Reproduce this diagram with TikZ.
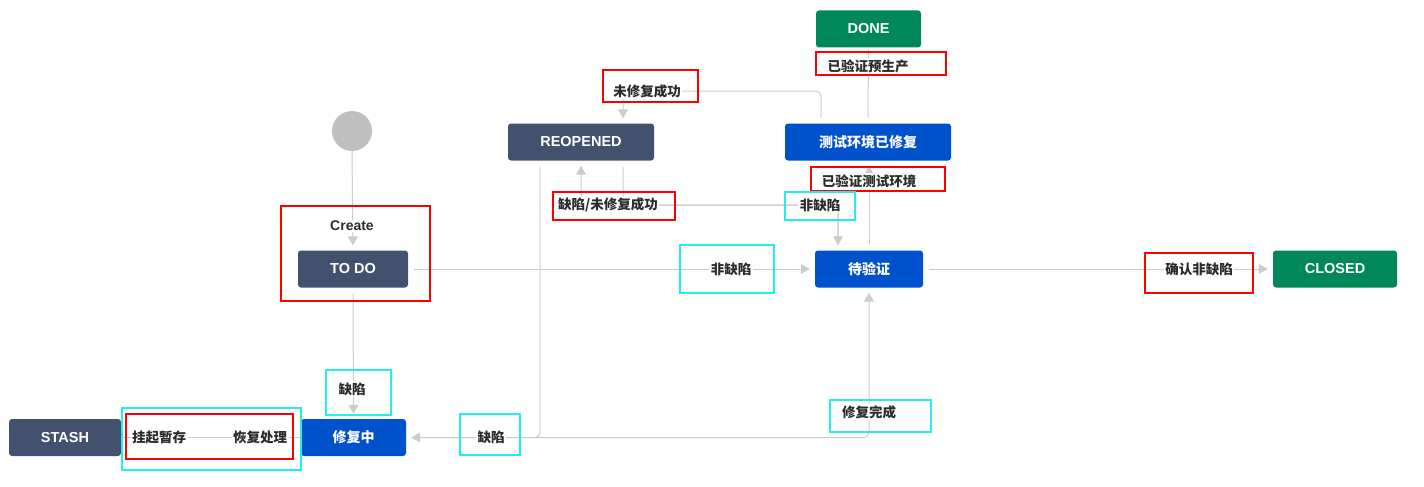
\documentclass[tikz,border=0pt]{standalone}
\usepackage{fontspec}
\setmainfont{Liberation Sans}
\newfontfamily\cjk{Noto Sans CJK SC}
\usetikzlibrary{arrows.meta}
\definecolor{jdark}{HTML}{42526E}
\definecolor{jblue}{HTML}{0052CC}
\definecolor{jgreen}{HTML}{00875A}
\definecolor{jline}{HTML}{CCCCCC}
\definecolor{jcirc}{HTML}{BFBFBF}
\definecolor{jtext}{HTML}{2B2B2B}
\definecolor{jcyan}{HTML}{22EEEE}
\begin{document}
\begin{tikzpicture}[x=1pt,y=-1pt,
  state/.style={rounded corners=3pt, minimum height=37pt, text=white, inner sep=0pt, font=\fontsize{14.5}{16}\selectfont\bfseries},
  sdark/.style={state, fill=jdark},
  sblue/.style={state, fill=jblue, font=\cjk\fontsize{14}{16}\selectfont\bfseries},
  sgreen/.style={state, fill=jgreen},
  lbl/.style={fill=white, inner sep=1.5pt, text=jtext, font=\cjk\fontsize{13.5}{15}\selectfont\bfseries},
  conn/.style={draw=jline, line width=1pt, rounded corners=5pt},
  arr/.style={conn, -{Triangle[width=10pt,length=9pt]}, shorten >=5pt},
  redbox/.style={draw=red, line width=2pt, inner sep=0pt},
  cyanbox/.style={draw=jcyan, line width=2pt, inner sep=0pt}
]
\useasboundingbox (0,0) rectangle (1424,487);

% states
\node[circle, fill=jcirc, minimum size=40pt, inner sep=0pt] (start) at (352,131) {};
\node[sgreen, minimum width=105pt] (done) at (868.5,29) {DONE};
\node[sdark, minimum width=146pt] (reo) at (581,142) {REOPENED};
\node[sblue, minimum width=166pt] (tef) at (868,142) {测试环境已修复};
\node[sdark, minimum width=110pt] (todo) at (353,269) {TO DO};
\node[sblue, minimum width=108pt] (dyz) at (869,269) {待验证};
\node[sgreen, minimum width=124pt] (closed) at (1335,269) {CLOSED};
\node[sdark, minimum width=112pt] (stash) at (65,437.5) {STASH};
\node[sblue, minimum width=105pt] (xfz) at (353.5,437.5) {修复中};

\coordinate (h91) at (0,91);
\coordinate (h205) at (0,205);

% connectors
\draw[arr, shorten <=0pt] (start.south) -- (todo.north);
\draw[arr, shorten <=6pt] (todo.east) -- (dyz.west);
\draw[arr, shorten <=6pt] (todo.south) -- (xfz.north);
\draw[arr, shorten <=6pt] (dyz.east) -- (closed.west);
\draw[conn] (stash.east) -- (xfz.west);
\draw[arr, shorten <=6pt] ([xshift=-41pt]reo.south) |- (xfz.east);
\draw[arr, shorten <=6pt] (xfz.east) -| (dyz.south);
\draw[arr, shorten <=6pt] ([xshift=42pt]reo.south) -- ([xshift=42pt]reo.south |- h205) -| ([xshift=-31pt]dyz.north);
\draw[arr, shorten <=6pt] ([xshift=-31pt]dyz.north) -- ([xshift=-31pt]dyz.north |- h205) -| (reo.south);
\draw[arr, shorten <=6pt] ([xshift=-47pt]tef.north) -- ([xshift=-47pt]tef.north |- h91) -| ([xshift=42pt]reo.north);
\draw[arr, shorten <=6pt, -{Triangle[width=5pt,length=4pt]}, shorten >=2pt] (tef.north) -- (done.south);
\draw[arr, shorten <=6pt] (dyz.north) -- (dyz.north |- tef.south);

% labels
\node[lbl, font=\fontsize{14}{16}\selectfont\bfseries] (lcreate) at (352,226) {Create};
\node[lbl] (l1) at (868,66) {已验证预生产};
\node[lbl] (l2) at (647,91) {未修复成功};
\node[lbl] (l3) at (869,181) {已验证测试环境};
\node[lbl] (l4) at (608,205) {缺陷/未修复成功};
\node[lbl] (l5) at (820,205) {非缺陷};
\node[lbl] (l6) at (731,269) {非缺陷};
\node[lbl] (l7) at (1199,269) {确认非缺陷};
\node[lbl] (l8) at (352,389) {缺陷};
\node[lbl] (l9) at (159,437) {挂起暂存};
\node[lbl] (l10) at (260,437) {恢复处理};
\node[lbl] (l11) at (491,437) {缺陷};
\node[lbl] (l12) at (869,412) {修复完成};

% annotation boxes
\node[redbox, minimum width=130pt, minimum height=23pt] (r1) at (881,63.5) {};
\node[redbox, minimum width=95pt, minimum height=32pt] (r2) at (650.5,86) {};
\node[redbox, minimum width=134pt, minimum height=24pt] (r3) at (878,179) {};
\node[redbox, minimum width=122pt, minimum height=28pt] (r4) at (614,206) {};
\node[redbox, minimum width=149pt, minimum height=95pt] (r5) at (355.5,253.5) {};
\node[redbox, minimum width=108pt, minimum height=40pt] (r6) at (1199,273) {};
\node[redbox, minimum width=167pt, minimum height=45pt] (r7) at (209.5,436.5) {};
\node[cyanbox, minimum width=70pt, minimum height=28pt] (c1) at (820,206) {};
\node[cyanbox, minimum width=94pt, minimum height=48pt] (c2) at (727,269) {};
\node[cyanbox, minimum width=65pt, minimum height=45pt] (c3) at (358.5,392.5) {};
\node[cyanbox, minimum width=179pt, minimum height=62pt] (c4) at (211.5,439) {};
\node[cyanbox, minimum width=60pt, minimum height=41pt] (c5) at (490,434.5) {};
\node[cyanbox, minimum width=101pt, minimum height=32pt] (c6) at (880.5,416) {};
\end{tikzpicture}
\end{document}
